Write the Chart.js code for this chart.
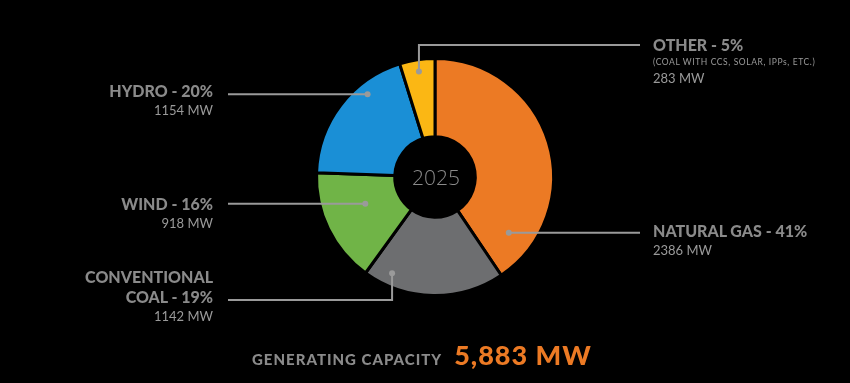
<!DOCTYPE html>
<html lang="en">
<head>
    <meta charset="UTF-8">
    <title>Generating Capacity 2025</title>
    <script src="https://cdn.jsdelivr.net/npm/chart.js"></script>
    <style>
        html, body {
            margin: 0;
            padding: 0;
            background: #000;
        }

        .wrap {
            position: relative;
            width: 850px;
            height: 383px;
            overflow: hidden;
            font-family: 'Lato', sans-serif;
        }

        canvas {
            position: absolute;
            left: 0;
            top: 0;
        }

        .lbl {
            position: absolute;
            color: #8a8a8a;
            white-space: nowrap;
        }

        .lbl b {
            display: block;
            font-weight: 900;
            font-size: 16px;
            line-height: 20px;
        }

        .lbl span {
            display: block;
            font-size: 13px;
            line-height: 19px;
            color: #9a9a9a;
        }

        .lbl small {
            display: block;
            font-size: 8.5px;
            letter-spacing: 0.6px;
            line-height: 14px;
            color: #9a9a9a;
        }

        .right { text-align: right; }

        .year {
            position: absolute;
            left: 396px;
            top: 163px;
            width: 80px;
            text-align: center;
            color: #8a8a8a;
            font-size: 21px;
            font-family: 'Open Sans', sans-serif;
            font-weight: 300;
        }

        .total {
            position: absolute;
            left: 252px;
            top: 338px;
            white-space: nowrap;
        }

        .total .cap {
            color: #8a8a8a;
            font-weight: 900;
            font-size: 15px;
            letter-spacing: 1px;
        }

        .total .mw {
            color: #ec7a24;
            font-weight: 900;
            font-size: 27px;
            letter-spacing: 1px;
            margin-left: 12px;
        }
    </style>
</head>
<body>
<div class="wrap">
    <canvas id="pie" width="850" height="383"></canvas>

    <div class="lbl" style="left:653px; top:35px;">
        <b>OTHER - 5%</b>
        <small>(COAL WITH CCS, SOLAR, IPPs, ETC.)</small>
        <span>283 MW</span>
    </div>

    <div class="lbl right" style="right:637px; top:81px;">
        <b>HYDRO - 20%</b>
        <span>1154 MW</span>
    </div>

    <div class="lbl right" style="right:637px; top:194px;">
        <b>WIND - 16%</b>
        <span>918 MW</span>
    </div>

    <div class="lbl right" style="right:637px; top:267px;">
        <b>CONVENTIONAL</b>
        <b>COAL - 19%</b>
        <span>1142 MW</span>
    </div>

    <div class="lbl" style="left:653px; top:221px;">
        <b>NATURAL GAS - 41%</b>
        <span>2386 MW</span>
    </div>

    <div class="year">2025</div>

    <div class="total">
        <span class="cap">GENERATING CAPACITY</span><span class="mw">5,883 MW</span>
    </div>
</div>

<script>
    // capacity by source, clockwise from the top
    var sources = ['Natural Gas', 'Conventional Coal', 'Wind', 'Hydro', 'Other'];
    var megawatts = [2386, 1142, 918, 1154, 283];
    var colors = ['#ec7a24', '#6d6e70', '#70b447', '#1a8fd6', '#fbb714'];

    // where each leader line touches its slice (share of slice span, share of radius)
    // and how it runs to the label
    var leaders = [
        { t: 0.87, r: 0.78, route: 'h', toX: 640 },
        { t: 0.83, r: 0.89, route: 'vh', toY: 300, toX: 228 },
        { t: 0.59, r: 0.63, route: 'h', toX: 228 },
        { t: 0.69, r: 0.90, route: 'h', toX: 228 },
        { t: 0.50, r: 0.90, route: 'vh', toY: 45, toX: 640 }
    ];

    var leaderPlugin = {
        id: 'leaders',
        afterDatasetsDraw: function(chart) {
            var ctx = chart.ctx;
            var arcs = chart.getDatasetMeta(0).data;
            ctx.save();
            ctx.strokeStyle = '#9a9a9a';
            ctx.fillStyle = '#9a9a9a';
            ctx.lineWidth = 2;
            for (var i = 0; i < arcs.length; i++) {
                var a = arcs[i];
                var L = leaders[i];
                var ang = a.startAngle + (a.endAngle - a.startAngle) * L.t;
                var px = a.x + Math.cos(ang) * a.outerRadius * L.r;
                var py = a.y + Math.sin(ang) * a.outerRadius * L.r;
                ctx.beginPath();
                ctx.moveTo(px, py);
                if (L.route === 'h') {
                    ctx.lineTo(L.toX, py);
                } else {
                    ctx.lineTo(px, L.toY);
                    ctx.lineTo(L.toX, L.toY);
                }
                ctx.stroke();
                ctx.beginPath();
                ctx.arc(px, py, 3, 0, Math.PI * 2);
                ctx.fill();
            }
            ctx.restore();
        }
    };

    new Chart(document.getElementById('pie'), {
        type: 'doughnut',
        data: {
            labels: sources,
            datasets: [{
                data: megawatts,
                backgroundColor: colors,
                borderColor: '#000',
                borderWidth: 3
            }]
        },
        options: {
            responsive: false,
            animation: false,
            cutout: '34%',
            layout: {
                padding: { left: 315, right: 295, top: 57, bottom: 86 }
            },
            plugins: {
                legend: { display: false },
                tooltip: { enabled: false }
            }
        },
        plugins: [leaderPlugin]
    });
</script>
</body>
</html>
